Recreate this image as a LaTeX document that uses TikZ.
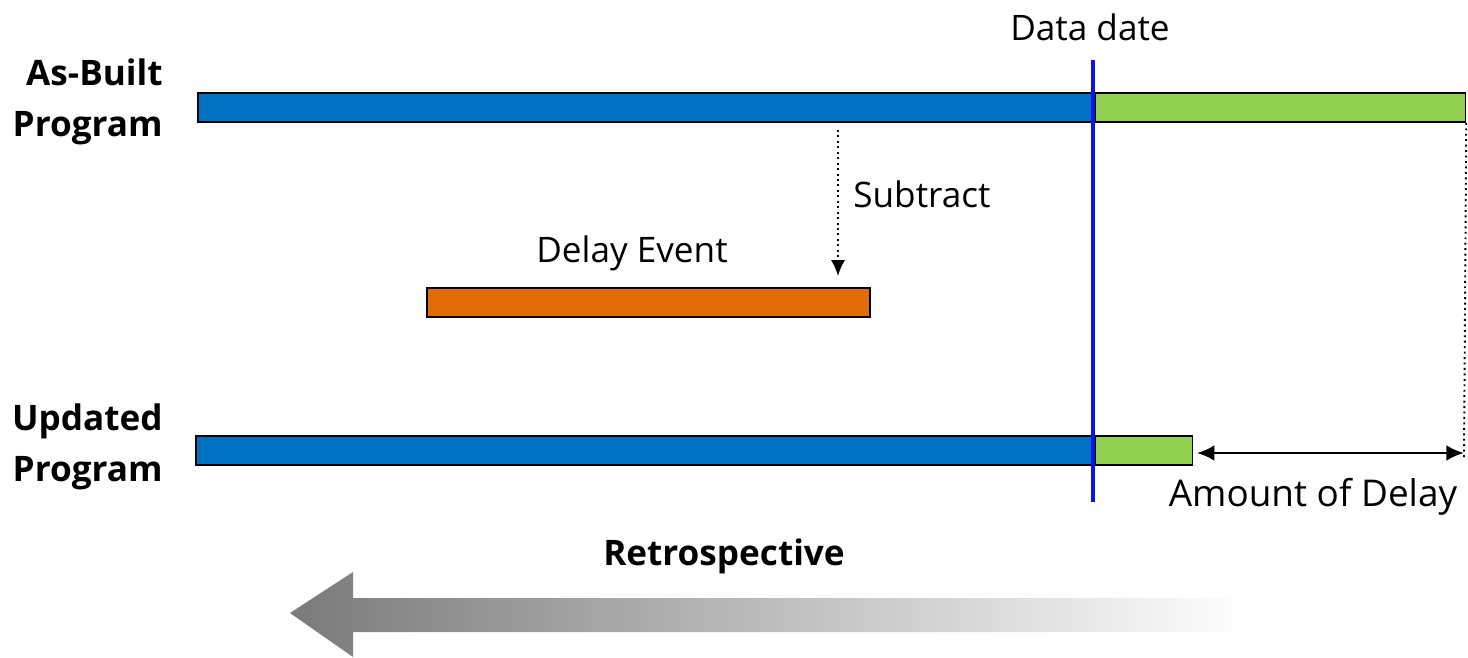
\documentclass[tikz,border=0pt]{standalone}
\usepackage{fontspec}
\setmainfont{Open Sans}
\usetikzlibrary{positioning,arrows.meta}

\definecolor{pastblue}{HTML}{0070C0}
\definecolor{futgreen}{HTML}{92D050}
\definecolor{evorange}{HTML}{E36C0A}
\definecolor{dateblue}{HTML}{0A14F0}

\tikzset{
  bar/.style={draw=black, line width=1pt, minimum height=0.58cm, inner sep=0pt, anchor=west},
  lbl/.style={font=\fontsize{20}{29}\selectfont, inner sep=0pt},
  rowlbl/.style={lbl, font=\fontsize{20}{29}\selectfont\bfseries, align=right, anchor=east}
}

\begin{document}
\begin{tikzpicture}[x=0.02cm, y=-0.02cm]
    \useasboundingbox (0,0) rectangle (1468,657);
    % bars
    \node[bar, fill=pastblue, minimum width=17.92cm] (abpast) at (197,107.5) {};
    \node[bar, fill=futgreen, minimum width=7.40cm] (abfut) at (abpast.east) {};
    \node[bar, fill=evorange, minimum width=8.86cm] (event) at (426,302.5) {};
    \node[bar, fill=pastblue, minimum width=17.96cm] (uppast) at (195,450.5) {};
    \node[bar, fill=futgreen, minimum width=1.94cm] (upfut) at (uppast.east) {};
    % labels
    \node[rowlbl] (ablbl) at (163,102) {As-Built\\Program};
    \node[rowlbl] (uplbl) at (163,447) {Updated\\Program};
    \node[lbl] (datelbl) at (1090,27) {Data date};
    \node[lbl] (eventlbl) at (632,253) {Delay Event};
    \node[lbl, anchor=west] (sublbl) at (853,194) {Subtract};
    \node[lbl, font=\fontsize{21}{29}\selectfont] (amountlbl) at (1313,497) {Amount of Delay};
    \node[lbl, font=\fontsize{20}{29}\selectfont\bfseries] (retrolbl) at (724,556) {Retrospective};
    % data date line
    \coordinate (ddtop) at (1093,60);
    \coordinate (ddbot) at (1093,502);
    \draw[dateblue, line width=2.2pt] (ddtop) -- (ddbot);
    % subtract arrow
    \coordinate (subtop) at (838,130);
    \coordinate (subbot) at (838,276);
    \draw[dotted, line width=1.1pt, -{Latex[length=9pt,width=8pt]}] (subtop) -- (subbot);
    % amount of delay
    \coordinate (delayend) at (1464,453);
    \draw[dotted, line width=1.1pt] (abfut.south east) -- (1464,458);
    \draw[line width=1.6pt, {Latex[length=10pt,width=9pt]}-{Latex[length=10pt,width=9pt]}]
      ([xshift=2pt]upfut.east |- delayend) -- (delayend);
    % retrospective arrow
    \shade[left color=black!52, middle color=black!16, right color=white]
      (290,613) -- (353,572) -- (353,598) -- (1250,598) -- (1250,632)
      -- (353,632) -- (353,657) -- cycle;
\end{tikzpicture}
\end{document}
